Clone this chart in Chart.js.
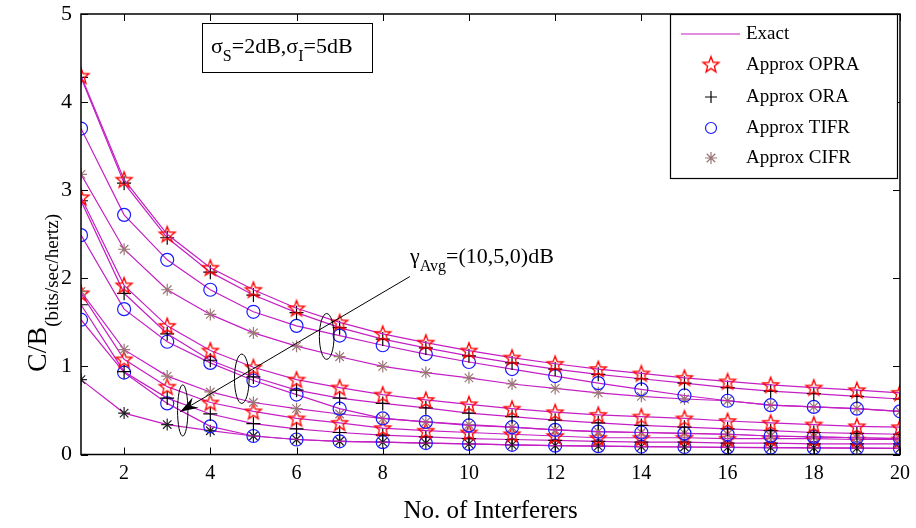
<!DOCTYPE html>
<html>
<head>
<meta charset="utf-8">
<script src="https://cdn.jsdelivr.net/npm/chart.js@4.4.0/dist/chart.umd.min.js"></script>
<style>
  html, body { margin: 0; padding: 0; background: #fff; }
  #wrap { width: 916px; height: 528px; }
</style>
</head>
<body>
<div id="wrap"><canvas id="chart" width="916" height="528"></canvas></div>
<script>
const interferers = [1,2,3,4,5,6,7,8,9,10,11,12,13,14,15,16,17,18,19,20];
const xTicks = [2,4,6,8,10,12,14,16,18,20];
const yTicks = [0,1,2,3,4,5];

// gamma_avg = 10 dB
const opra10 = [4.30,3.12,2.50,2.12,1.87,1.66,1.50,1.37,1.27,1.18,1.10,1.03,0.97,0.92,0.87,0.83,0.79,0.76,0.73,0.70];
const ora10  = [4.28,3.08,2.46,2.07,1.81,1.61,1.44,1.31,1.21,1.12,1.04,0.97,0.91,0.86,0.81,0.76,0.72,0.69,0.66,0.63];
const tifr10 = [3.70,2.72,2.21,1.87,1.62,1.46,1.35,1.24,1.14,1.05,0.97,0.89,0.81,0.74,0.67,0.61,0.56,0.54,0.52,0.49];
const cifr10 = [3.18,2.33,1.87,1.59,1.38,1.23,1.11,1.00,0.93,0.87,0.80,0.75,0.70,0.66,0.63,0.61,0.56,0.54,0.52,0.49];
// gamma_avg = 5 dB
const opra5  = [2.92,1.92,1.46,1.18,0.99,0.85,0.76,0.68,0.62,0.57,0.52,0.48,0.45,0.43,0.41,0.38,0.36,0.34,0.32,0.31];
const ora5   = [2.88,1.83,1.37,1.07,0.88,0.73,0.64,0.58,0.53,0.47,0.43,0.39,0.36,0.33,0.31,0.29,0.27,0.25,0.24,0.23];
const tifr5  = [2.49,1.65,1.28,1.04,0.84,0.68,0.52,0.41,0.37,0.33,0.31,0.28,0.26,0.25,0.24,0.23,0.21,0.20,0.19,0.18];
const cifr5  = [1.85,1.19,0.89,0.71,0.59,0.52,0.46,0.41,0.37,0.34,0.31,0.28,0.26,0.25,0.24,0.23,0.21,0.20,0.19,0.18];
// gamma_avg = 0 dB
const opra0  = [1.83,1.08,0.77,0.59,0.49,0.41,0.36,0.30,0.27,0.25,0.23,0.21,0.19,0.19,0.19,0.18,0.18,0.18,0.17,0.17];
const ora0   = [1.70,0.94,0.64,0.46,0.35,0.29,0.25,0.22,0.20,0.18,0.17,0.16,0.15,0.14,0.14,0.13,0.13,0.12,0.12,0.12];
const tifr0  = [1.53,0.93,0.58,0.32,0.21,0.17,0.15,0.14,0.13,0.12,0.11,0.10,0.095,0.09,0.085,0.08,0.078,0.075,0.072,0.07];
const cifr0  = [0.85,0.47,0.34,0.27,0.21,0.17,0.15,0.14,0.13,0.12,0.11,0.10,0.095,0.09,0.085,0.08,0.078,0.075,0.072,0.07];

const legendLabels = ['Exact', 'Approx OPRA', 'Approx ORA', 'Approx TIFR', 'Approx CIFR'];

const LINE = '#c41fc4';
const RED = '#ff0000';
const BLUE = '#1a1aff';
const BROWN = '#9c7676';
const SERIF = "'Liberation Serif', 'Times New Roman', serif";

Chart.defaults.font.family = SERIF;
Chart.defaults.color = '#000';

// five pointed star outline, as an image point style
function makeStar(color) {
    const c = document.createElement('canvas');
    c.width = 20; c.height = 20;
    const g = c.getContext('2d');
    g.strokeStyle = color;
    g.lineWidth = 1.3;
    g.beginPath();
    for (let i = 0; i < 10; i++) {
        const r = i % 2 === 0 ? 8.4 : 3.5;
        const a = -Math.PI / 2 + i * Math.PI / 5;
        const px = 10 + r * Math.cos(a), py = 10.6 + r * Math.sin(a);
        if (i === 0) g.moveTo(px, py); else g.lineTo(px, py);
    }
    g.closePath();
    g.stroke();
    return c;
}
const starImg = makeStar(RED);

function curve(values, style, color, radius) {
    return {
        data: values.map((v, i) => ({ x: interferers[i], y: v })),
        borderColor: LINE,
        borderWidth: 1.2,
        pointStyle: style,
        pointRadius: radius,
        pointBorderColor: color,
        pointBackgroundColor: 'rgba(0,0,0,0)',
        pointBorderWidth: 1.2,
        tension: 0,
        fill: false
    };
}

const datasets = [
    curve(opra10, starImg, RED, 7), curve(ora10, 'cross', '#000', 7),
    curve(tifr10, 'circle', BLUE, 6.5), curve(cifr10, 'star', BROWN, 6),
    curve(opra5, starImg, RED, 7), curve(ora5, 'cross', '#000', 7),
    curve(tifr5, 'circle', BLUE, 6.5), curve(cifr5, 'star', BROWN, 6),
    curve(opra0, starImg, RED, 7), curve(ora0, 'cross', '#000', 7),
    curve(tifr0, 'circle', BLUE, 6.5), curve(cifr0, 'star', '#222', 6)
];

function drawSubText(ctx, parts, x, y) {
    // parts: [text, isSub]
    let cx = x;
    parts.forEach(([t, sub]) => {
        ctx.font = sub ? '16px ' + SERIF : '22px ' + SERIF;
        ctx.fillText(t, cx, sub ? y + 8 : y);
        cx += ctx.measureText(t).width;
    });
}

const decorations = {
    id: 'decorations',
    afterDatasetsDraw(chart) {
        const ctx = chart.ctx;
        const xs = chart.scales.x, ys = chart.scales.y;
        const a = chart.chartArea;
        ctx.save();
        ctx.strokeStyle = '#000';
        ctx.lineWidth = 1;

        // ellipses marking the three groups
        [[6.70, 1.34, 0.17, 0.26], [4.73, 0.86, 0.17, 0.28], [3.36, 0.50, 0.12, 0.29]].forEach(([ex, ey, rx, ry]) => {
            const cx = xs.getPixelForValue(ex), cy = ys.getPixelForValue(ey);
            const pxr = xs.getPixelForValue(ex + rx) - cx;
            const pyr = cy - ys.getPixelForValue(ey + ry);
            ctx.beginPath();
            ctx.ellipse(cx, cy, pxr, pyr, 0, 0, Math.PI * 2);
            ctx.stroke();
        });

        // arrow
        const x0 = xs.getPixelForValue(8.63), y0 = ys.getPixelForValue(2.02);
        const x1 = xs.getPixelForValue(3.30), y1 = ys.getPixelForValue(0.485);
        const ang = Math.atan2(y1 - y0, x1 - x0);
        ctx.beginPath();
        ctx.moveTo(x0, y0);
        ctx.lineTo(x1, y1);
        ctx.stroke();
        ctx.fillStyle = '#000';
        ctx.beginPath();
        ctx.moveTo(x1, y1);
        ctx.lineTo(x1 - 18 * Math.cos(ang) + 6 * Math.sin(ang), y1 - 18 * Math.sin(ang) - 6 * Math.cos(ang));
        ctx.lineTo(x1 - 12 * Math.cos(ang), y1 - 12 * Math.sin(ang));
        ctx.lineTo(x1 - 18 * Math.cos(ang) - 6 * Math.sin(ang), y1 - 18 * Math.sin(ang) + 6 * Math.cos(ang));
        ctx.closePath();
        ctx.fill();

        // gamma label
        ctx.fillStyle = '#000';
        ctx.textBaseline = 'alphabetic';
        ctx.textAlign = 'left';
        drawSubText(ctx, [['\u03b3', false], ['Avg', true], ['=(10,5,0)dB', false]], 410, 263);

        // sigma box
        ctx.fillStyle = '#fff';
        ctx.fillRect(202, 23, 170, 49);
        ctx.strokeRect(202.5, 23.5, 170, 49);
        ctx.fillStyle = '#000';
        drawSubText(ctx, [['\u03c3', false], ['S', true], ['=2dB,\u03c3', false], ['I', true], ['=5dB', false]], 211, 53);

        // frame and inward ticks
        ctx.lineWidth = 1.5;
        ctx.strokeRect(a.left, a.top, a.right - a.left, a.bottom - a.top);
        ctx.lineWidth = 1;
        ctx.beginPath();
        xTicks.forEach(v => {
            const p = Math.round(xs.getPixelForValue(v)) + 0.5;
            ctx.moveTo(p, a.bottom); ctx.lineTo(p, a.bottom - 7);
            ctx.moveTo(p, a.top); ctx.lineTo(p, a.top + 7);
        });
        yTicks.forEach(v => {
            const p = Math.round(ys.getPixelForValue(v)) + 0.5;
            ctx.moveTo(a.left, p); ctx.lineTo(a.left + 7, p);
            ctx.moveTo(a.right, p); ctx.lineTo(a.right - 7, p);
        });
        ctx.stroke();

        // legend
        const lx = 670, ly = 14, lw = 227, lh = 164;
        ctx.fillStyle = '#fff';
        ctx.fillRect(lx, ly, lw, lh);
        ctx.lineWidth = 1.2;
        ctx.strokeRect(lx + 0.5, ly + 0.5, lw, lh);
        const rowY = [34, 65, 97, 128, 158];
        ctx.font = '19px ' + SERIF;
        ctx.textBaseline = 'middle';
        legendLabels.forEach((t, i) => {
            ctx.fillStyle = '#000';
            ctx.fillText(t, 746, rowY[i]);
        });
        ctx.strokeStyle = LINE;
        ctx.lineWidth = 1.2;
        ctx.beginPath();
        ctx.moveTo(681, rowY[0]); ctx.lineTo(740, rowY[0]);
        ctx.stroke();
        ctx.drawImage(starImg, 711 - 10, rowY[1] - 10.6);
        ctx.strokeStyle = '#000';
        ctx.beginPath();
        ctx.moveTo(705, rowY[2]); ctx.lineTo(717, rowY[2]);
        ctx.moveTo(711, rowY[2] - 6); ctx.lineTo(711, rowY[2] + 6);
        ctx.stroke();
        ctx.strokeStyle = BLUE;
        ctx.beginPath();
        ctx.arc(711, rowY[3], 5.5, 0, Math.PI * 2);
        ctx.stroke();
        ctx.strokeStyle = BROWN;
        ctx.beginPath();
        for (let k = 0; k < 4; k++) {
            const an = k * Math.PI / 4;
            ctx.moveTo(711 - 6 * Math.cos(an), rowY[4] - 6 * Math.sin(an));
            ctx.lineTo(711 + 6 * Math.cos(an), rowY[4] + 6 * Math.sin(an));
        }
        ctx.stroke();

        // axis titles
        ctx.fillStyle = '#000';
        ctx.textBaseline = 'alphabetic';
        ctx.textAlign = 'center';
        ctx.font = '25px ' + SERIF;
        ctx.fillText('No. of Interferers', (a.left + a.right) / 2, 518);

        ctx.translate(46, 372);
        ctx.rotate(-Math.PI / 2);
        ctx.textAlign = 'left';
        ctx.font = '28px ' + SERIF;
        ctx.fillText('C/B', 0, 0);
        const w = ctx.measureText('C/B').width;
        ctx.font = '19px ' + SERIF;
        ctx.fillText('(bits/sec/hertz)', w, 12);
        ctx.restore();
    }
};

new Chart(document.getElementById('chart'), {
    type: 'line',
    data: { datasets },
    options: {
        responsive: false,
        animation: false,
        layout: { padding: { top: 14, right: 16, left: 0, bottom: 0 } },
        plugins: { legend: { display: false }, tooltip: { enabled: false } },
        scales: {
            x: {
                type: 'linear',
                min: 1, max: 20,
                grid: { display: false, drawTicks: false },
                border: { display: false },
                afterBuildTicks: s => { s.ticks = xTicks.map(v => ({ value: v })); },
                afterFit: s => { s.height = 73.5; s.paddingLeft = 0; s.paddingRight = 0; },
                ticks: { padding: 7, font: { size: 20 }, color: '#000', maxRotation: 0 }
            },
            y: {
                type: 'linear',
                min: 0, max: 5,
                grid: { display: false, drawTicks: false },
                border: { display: false },
                afterBuildTicks: s => { s.ticks = yTicks.map(v => ({ value: v })); },
                afterFit: s => { s.width = 81; s.paddingTop = 0; s.paddingBottom = 0; },
                ticks: { padding: 9, font: { size: 22 }, color: '#000' }
            }
        }
    },
    plugins: [decorations]
});
</script>
</body>
</html>
